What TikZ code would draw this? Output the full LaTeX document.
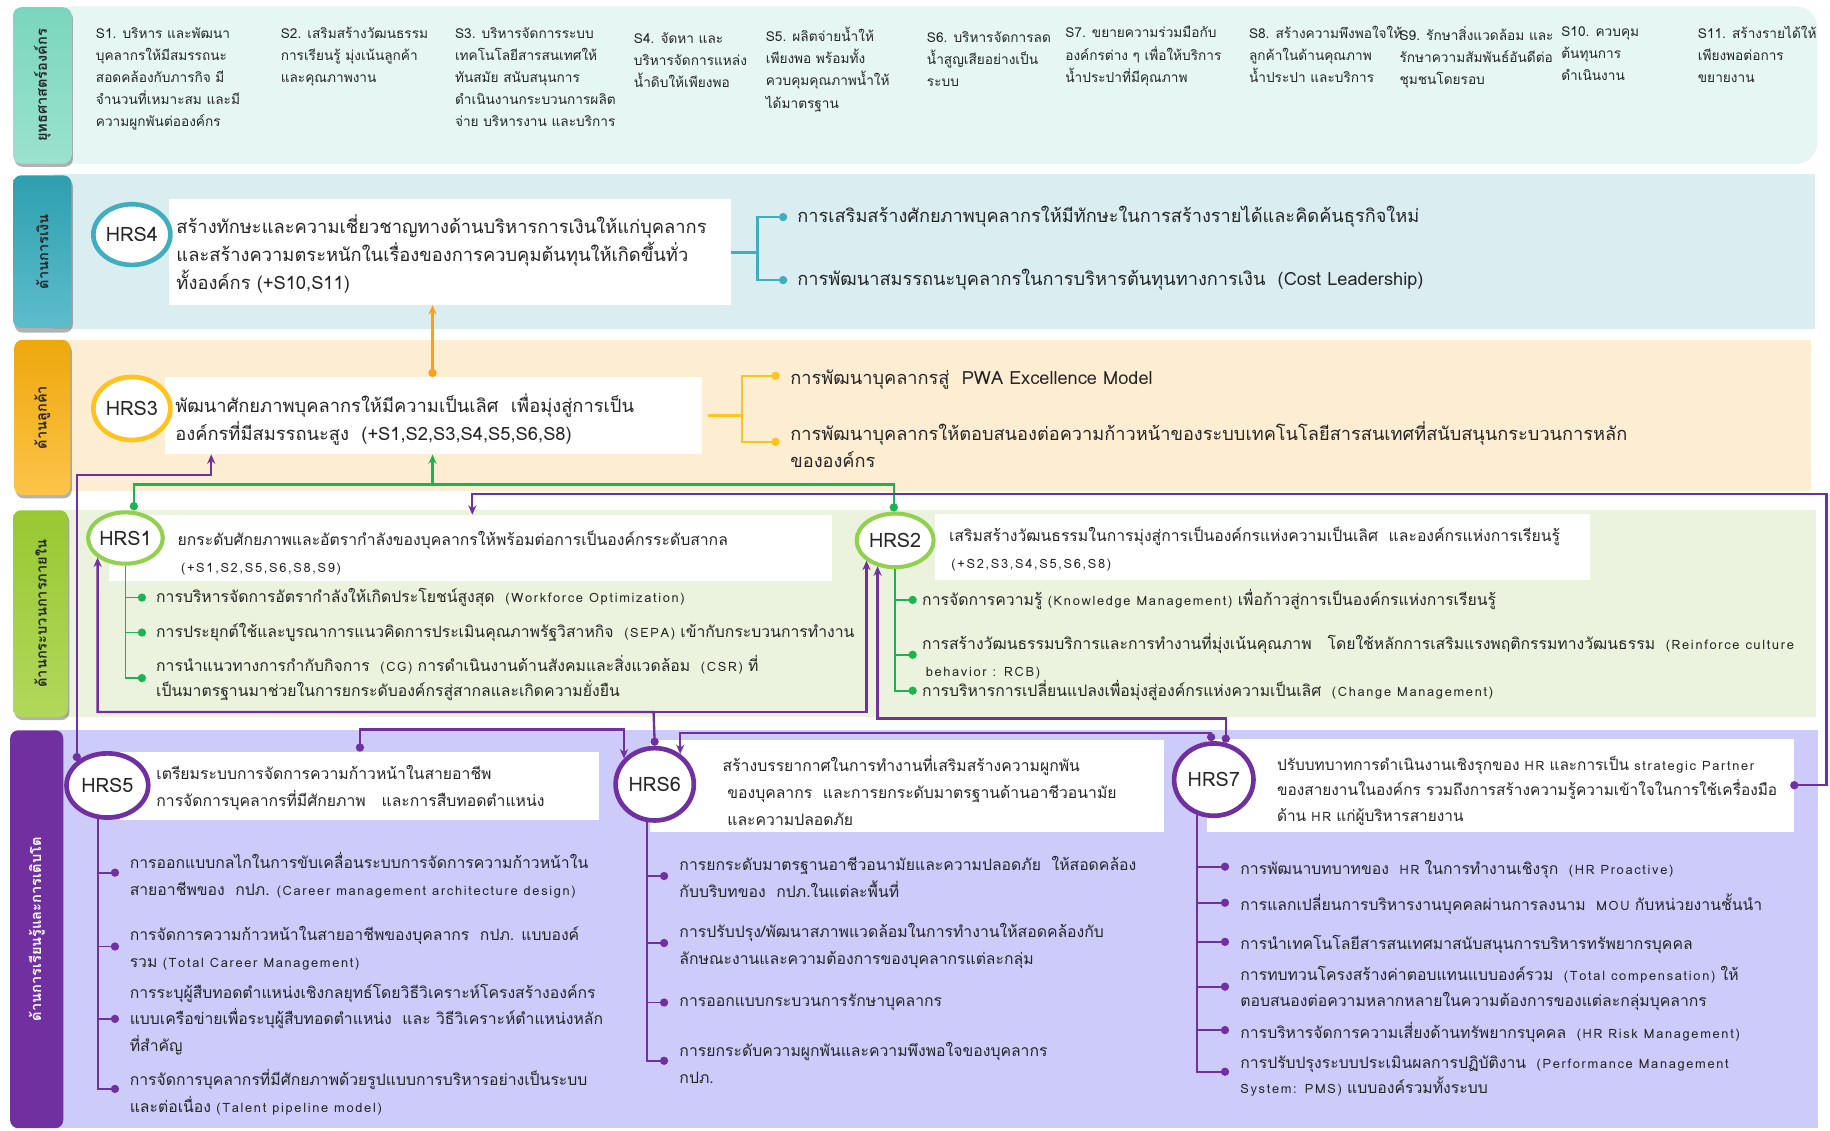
\documentclass[tikz,border=0pt]{standalone}
\usepackage{fontspec}
\setmainfont[Script=Thai]{Loma}
\usetikzlibrary{shapes.geometric,arrows.meta}
\definecolor{bgA}{HTML}{E6F7F3}
\definecolor{lbAt}{HTML}{7AD6BD}
\definecolor{lbAb}{HTML}{9BE2CE}
\definecolor{bgB}{HTML}{DAEEF2}
\definecolor{lbBt}{HTML}{2E9FAF}
\definecolor{lbBb}{HTML}{5DBDCB}
\definecolor{bgC}{HTML}{FDEED3}
\definecolor{lbCt}{HTML}{EDA80C}
\definecolor{lbCb}{HTML}{FDC449}
\definecolor{bgD}{HTML}{EBF2DE}
\definecolor{lbDt}{HTML}{98C832}
\definecolor{lbDb}{HTML}{B2D85B}
\definecolor{bgE}{HTML}{CCCBFA}
\definecolor{lbE}{HTML}{7030A0}
\definecolor{cTeal}{HTML}{40AEBF}
\definecolor{cGold}{HTML}{FFC31F}
\definecolor{cLime}{HTML}{92D050}
\definecolor{cGreen}{HTML}{1DB351}
\definecolor{cPurp}{HTML}{7030A0}
\definecolor{cOrange}{HTML}{F9A11B}
\definecolor{ink}{HTML}{262626}
\newcommand{\enx}[1]{{\fontsize{11}{11}\selectfont\addfontfeature{LetterSpace=13}#1}}
\tikzset{
  lblbox/.style={anchor=north west, inner sep=0pt, rounded corners=7pt},
  lbltext/.style={rotate=90, inner sep=0pt, font=\fontsize{12.5}{14}\selectfont\bfseries, text=ink},
  hrsnode/.style={ellipse, fill=white, line width=4pt, inner sep=0pt, font=\fontsize{17}{18}\selectfont, text=ink},
  wbox/.style={fill=white, anchor=north west, inner sep=0pt},
  stxt/.style={anchor=north west, inner sep=0pt, align=left, font=\fontsize{11.7}{19}\selectfont, text=ink},
  mtxt/.style={anchor=west, inner sep=0pt, align=left, font=\fontsize{15.7}{24}\selectfont, text=ink},
  ctxt/.style={anchor=west, inner sep=0pt, align=left, font=\fontsize{15.6}{23}\selectfont, text=ink},
  btxt/.style={anchor=west, inner sep=0pt, align=left, font=\fontsize{13.5}{23}\selectfont, text=ink},
  conn/.style={line width=2pt},
  trunk/.style={line width=1.5pt},
  enddot/.style={-{Circle[length=7pt]}},
  dotdot/.style={{Circle[length=7pt]}-{Circle[length=7pt]}},
  tipS/.style={-{Stealth[length=8pt,width=7pt]}},
  dotarr/.style={{Circle[length=7pt]}-{Stealth[length=8pt,width=7pt]}},
}
\begin{document}
\begin{tikzpicture}[x=1pt,y=-1pt]
\useasboundingbox (0,0) rectangle (1568,969);
\fill[white] (0,0) rectangle (1568,969);
% band backgrounds
\fill[bgA, rounded corners=18pt] (45,5.5) rectangle (1557,140.5);
\fill[bgB] (45,149) rectangle (1555,282);
\fill[bgC] (45,291) rectangle (1552,421);
\fill[bgD] (45,437) rectangle (1556,614);
\fill[bgE] (45,625.5) rectangle (1558,966.5);
% label shadows
\fill[black, opacity=0.3, rounded corners=7pt] (12.5,9) rectangle (62.5,143);
\fill[black, opacity=0.3, rounded corners=7pt] (12.5,153) rectangle (62.5,285);
\fill[black, opacity=0.3, rounded corners=7pt] (13.5,294) rectangle (61.5,427);
\fill[black, opacity=0.3, rounded corners=7pt] (12.5,440) rectangle (59.5,617);
% labels
\node[lblbox, top color=lbAt, bottom color=lbAb, minimum width=50pt, minimum height=134pt] (labA) at (11,6) {};
\node[lbltext] (labAt) at (labA.center) {ยุทธศาสตร์องค์กร};
\node[lblbox, top color=lbBt, bottom color=lbBb, minimum width=50pt, minimum height=131pt] (labB) at (11,150) {};
\node[lbltext] (labBt) at (labB.center) {ด้านการเงิน};
\node[lblbox, top color=lbCt, bottom color=lbCb, minimum width=48pt, minimum height=133pt] (labC) at (12,291) {};
\node[lbltext] (labCt) at (labC.center) {ด้านลูกค้า};
\node[lblbox, top color=lbDt, bottom color=lbDb, minimum width=47pt, minimum height=177pt] (labD) at (11,437) {};
\node[lbltext] (labDt) at (labD.center) {ด้านกระบวนการภายใน};
\node[lblbox, fill=lbE, minimum width=45.5pt, minimum height=341pt] (labE) at (8.5,625.5) {};
\node[lbltext, text=white] (labEt) at (labE.center) {ด้านการเรียนรู้และการเติบโต};
% strategy texts
\node[stxt] (s1) at (82,23) {S1. บริหาร และพัฒนา\\บุคลากรให้มีสมรรถนะ\\สอดคล้องกับภารกิจ มี\\จำนวนที่เหมาะสม และมี\\ความผูกพันต่อองค์กร};
\node[stxt] (s2) at (240.4,23) {S2. เสริมสร้างวัฒนธรรม\\การเรียนรู้ มุ่งเน้นลูกค้า\\และคุณภาพงาน};
\node[stxt] (s3) at (389.7,23) {S3. บริหารจัดการระบบ\\เทคโนโลยีสารสนเทศให้\\ทันสมัย สนับสนุนการ\\ดำเนินงานกระบวนการผลิต\\จ่าย บริหารงาน และบริการ};
\node[stxt] (s4) at (543,27.3) {S4. จัดหา และ\\บริหารจัดการแหล่ง\\น้ำดิบให้เพียงพอ};
\node[stxt] (s5) at (656,23) {S5. ผลิตจ่ายน้ำให้\\เพียงพอ พร้อมทั้ง\\ควบคุมคุณภาพน้ำให้\\ได้มาตรฐาน};
\node[stxt] (s6) at (794,26.7) {S6. บริหารจัดการลด\\น้ำสูญเสียอย่างเป็น\\ระบบ};
\node[stxt] (s7) at (912.6,22.4) {S7. ขยายความร่วมมือกับ\\องค์กรต่าง ๆ เพื่อให้บริการ\\น้ำประปาที่มีคุณภาพ};
\node[stxt] (s8) at (1070,22.4) {S8. สร้างความพึงพอใจให้\\ลูกค้าในด้านคุณภาพ\\น้ำประปา และบริการ};
\node[stxt] (s9) at (1199,22.4) {S9. รักษาสิ่งแวดล้อม และ\\รักษาความสัมพันธ์อันดีต่อ\\ชุมชนโดยรอบ};
\node[stxt] (s10) at (1337.6,22.4) {S10. ควบคุม\\ต้นทุนการ\\ดำเนินงาน};
\node[stxt] (s11) at (1454.6,22.4) {S11. สร้างรายได้ให้\\เพียงพอต่อการ\\ขยายงาน};
% white boxes
\node[wbox, minimum width=481pt, minimum height=91pt] (box4) at (145,170) {};
\node[wbox, minimum width=460pt, minimum height=66pt] (box3) at (141,323) {};
\node[wbox, minimum width=620pt, minimum height=57pt] (box1) at (93,441) {};
\node[wbox, minimum width=561pt, minimum height=57pt] (box2) at (801,440) {};
\node[wbox, minimum width=410pt, minimum height=58pt] (box5) at (103,644) {};
\node[wbox, minimum width=441pt, minimum height=79pt] (box6) at (556.5,634) {};
\node[wbox, minimum width=503pt, minimum height=80pt] (box7) at (1034,632.6) {};
% HRS circles
\node[hrsnode, draw=cTeal, minimum width=66pt, minimum height=52pt] (hrs4) at (113,201) {HRS4};
\node[hrsnode, draw=cGold, minimum width=66pt, minimum height=54pt] (hrs3) at (113,350) {HRS3};
\node[hrsnode, draw=cLime, line width=3.5pt, minimum width=64pt, minimum height=44pt] (hrs1) at (107.5,461) {HRS1};
\node[hrsnode, draw=cLime, line width=3.5pt, minimum width=66pt, minimum height=46pt] (hrs2) at (767,463) {HRS2};
\node[hrsnode, draw=cPurp, minimum width=70pt, minimum height=55pt] (hrs5) at (92,673) {HRS5};
\node[hrsnode, draw=cPurp, minimum width=67pt, minimum height=62pt] (hrs6) at (561,672) {HRS6};
\node[hrsnode, draw=cPurp, minimum width=68pt, minimum height=62pt] (hrs7) at (1040,668) {HRS7};
% HRS4 texts
\node[mtxt] (t4) at (151,218) {สร้างทักษะและความเชี่ยวชาญทางด้านบริหารการเงินให้แก่บุคลากร\\และสร้างความตระหนักในเรื่องของการควบคุมต้นทุนให้เกิดขึ้นทั่ว\\ทั้งองค์กร (+S10,S11)};
\node[ctxt] (b4a) at (683,186) {การเสริมสร้างศักยภาพบุคลากรให้มีทักษะในการสร้างรายได้และคิดค้นธุรกิจใหม่};
\node[ctxt] (b4b) at (683,240) {การพัฒนาสมรรถนะบุคลากรในการบริหารต้นทุนทางการเงิน~~(Cost Leadership)};
\coordinate (k4) at (649,216);
\draw[line width=2.5pt, cTeal] (box4.east |- k4) -- (k4);
\draw[conn, cTeal, enddot] (k4) |- ([xshift=-8.5pt]b4a.west);
\draw[conn, cTeal, enddot] (k4) |- ([xshift=-8.5pt]b4b.west);
% HRS3 texts
\node[mtxt] (t3) at (150,359.5) {พัฒนาศักยภาพบุคลากรให้มีความเป็นเลิศ~~เพื่อมุ่งสู่การเป็น\\องค์กรที่มีสมรรถนะสูง~~(+S1,S2,S3,S4,S5,S6,S8)};
\node[ctxt] (b3a) at (677,325) {การพัฒนาบุคลากรสู่~~PWA Excellence Model};
\node[ctxt] (b3b) at (677,381) {การพัฒนาบุคลากรให้ตอบสนองต่อความก้าวหน้าของระบบเทคโนโลยีสารสนเทศที่สนับสนุนกระบวนการหลัก\\ขององค์กร};
\coordinate (k3) at (636,356);
\draw[line width=2.5pt, cGold] ([xshift=5pt]box3.east) -- (k3);
\draw[conn, cGold, enddot] (k3) |- ([xshift=-9pt]b3a.west |- 0,322);
\draw[conn, cGold, enddot] (k3) |- ([xshift=-9pt]b3b.west |- 0,378.5);
% orange arrow HRS3 -> HRS4
\draw[conn, cOrange, dotarr] (box3.north -| 370.6,0) -- (box4.south -| 370.6,0);
% HRS1 texts
\node[btxt] (t1) at (152,474) {ยกระดับศักยภาพและอัตรากำลังของบุคลากรให้พร้อมต่อการเป็นองค์กรระดับสากล\\\hspace*{3pt}\enx{(+S1,S2,S5,S6,S8,S9)}};
\node[btxt] (b1a) at (133.6,512) {การบริหารจัดการอัตรากำลังให้เกิดประโยชน์สูงสุด~~\enx{(Workforce Optimization)}};
\node[btxt] (b1b) at (133.6,542) {การประยุกต์ใช้และบูรณาการแนวคิดการประเมินคุณภาพรัฐวิสาหกิจ~~\enx{(SEPA)} เข้ากับกระบวนการทำงาน};
\node[btxt, font=\fontsize{13.5}{22}\selectfont] (b1c) at (133.6,581) {การนำแนวทางการกำกับกิจการ~~\enx{(CG)} การดำเนินงานด้านสังคมและสิ่งแวดล้อม~~\enx{(CSR)} ที่\\เป็นมาตรฐานมาช่วยในการยกระดับองค์กรสู่สากลและเกิดความยั่งยืน};
\draw[trunk, cGreen, enddot] (hrs1.south) |- ([xshift=-8.5pt]b1a.west);
\draw[trunk, cGreen, enddot] (hrs1.south) |- ([xshift=-8.5pt]b1b.west);
\draw[trunk, cGreen, enddot] (hrs1.south) |- ([xshift=-8.5pt]b1c.west);
% HRS2 texts
\node[btxt] (t2) at (813,470.6) {เสริมสร้างวัฒนธรรมในการมุ่งสู่การเป็นองค์กรแห่งความเป็นเลิศ~~และองค์กรแห่งการเรียนรู้\\\hspace*{2pt}\enx{(+S2,S3,S4,S5,S6,S8)}};
\node[btxt] (b2a) at (790,514) {การจัดการความรู้ \enx{(Knowledge Management)} เพื่อก้าวสู่การเป็นองค์กรแห่งการเรียนรู้};
\node[btxt] (b2b) at (790,562) {การสร้างวัฒนธรรมบริการและการทำงานที่มุ่งเน้นคุณภาพ~~~โดยใช้หลักการเสริมแรงพฤติกรรมทางวัฒนธรรม~~\enx{(Reinforce culture}\\\hspace*{3pt}\enx{behavior : RCB)}};
\node[btxt] (b2c) at (790,591.8) {การบริหารการเปลี่ยนแปลงเพื่อมุ่งสู่องค์กรแห่งความเป็นเลิศ~~\enx{(Change Management)}};
\draw[trunk, cGreen, enddot] (hrs2.south) |- ([xshift=-4.5pt]b2a.west);
\draw[trunk, cGreen, enddot] (hrs2.south) |- ([xshift=-4.5pt]b2b.west |- 0,561);
\draw[trunk, cGreen, enddot] (hrs2.south) |- ([xshift=-4.5pt]b2c.west);
% green links HRS1/HRS2 -> HRS3
\coordinate (g1) at (114.7,415);
\coordinate (g2) at (765.8,415);
\coordinate (g3) at (370.6,415);
\draw[conn, cGreen, dotdot] (hrs1.north -| g1) -- (g1) -- (g2) -- (hrs2.north -| g2);
\draw[conn, cGreen, tipS] (g3) -- (box3.south -| g3);
% HRS5 texts
\node[btxt] (t5) at (133.8,675.5) {เตรียมระบบการจัดการความก้าวหน้าในสายอาชีพ\\การจัดการบุคลากรที่มีศักยภาพ~~~และการสืบทอดตำแหน่ง};
\node[btxt] (b5a) at (111,750) {การออกแบบกลไกในการขับเคลื่อนระบบการจัดการความก้าวหน้าใน\\สายอาชีพของ~~กปภ. \enx{(Career management architecture design)}};
\node[btxt] (b5b) at (111,812.5) {การจัดการความก้าวหน้าในสายอาชีพของบุคลากร~~กปภ. แบบองค์\\รวม \enx{(Total Career Management)}};
\node[btxt, font=\fontsize{13.5}{22.5}\selectfont] (b5c) at (111,873.5) {การระบุผู้สืบทอดตำแหน่งเชิงกลยุทธ์โดยวิธีวิเคราะห์โครงสร้างองค์กร\\แบบเครือข่ายเพื่อระบุผู้สืบทอดตำแหน่ง~~และ วิธีวิเคราะห์ตำแหน่งหลัก\\ที่สำคัญ};
\node[btxt] (b5d) at (111,935.5) {การจัดการบุคลากรที่มีศักยภาพด้วยรูปแบบการบริหารอย่างเป็นระบบ\\และต่อเนื่อง \enx{(Talent pipeline model)}};
\draw[trunk, cPurp, enddot] (hrs5.255) |- ([xshift=-9pt]b5a.west |- 0,747.7);
\draw[trunk, cPurp, enddot] (hrs5.255) |- ([xshift=-9pt]b5b.west |- 0,811);
\draw[trunk, cPurp, enddot] (hrs5.255) |- ([xshift=-9pt]b5c.west |- 0,873);
\draw[trunk, cPurp, enddot] (hrs5.255) |- ([xshift=-9pt]b5d.west |- 0,933);
% HRS6 texts
\node[btxt] (t6) at (619,677) {สร้างบรรยากาศในการทำงานที่เสริมสร้างความผูกพัน\\\hspace*{4pt}ของบุคลากร~~และการยกระดับมาตรฐานด้านอาชีวอนามัย\\\hspace*{4pt}และความปลอดภัย};
\node[btxt] (b6a) at (582,751.7) {การยกระดับมาตรฐานอาชีวอนามัยและความปลอดภัย~~ให้สอดคล้อง\\กับบริบทของ~~กปภ.ในแต่ละพื้นที่};
\node[btxt] (b6b) at (582,810.5) {การปรับปรุง/พัฒนาสภาพแวดล้อมในการทำงานให้สอดคล้องกับ\\ลักษณะงานและความต้องการของบุคลากรแต่ละกลุ่ม};
\node[btxt] (b6c) at (582,859) {การออกแบบกระบวนการรักษาบุคลากร};
\node[btxt] (b6d) at (582,910.8) {การยกระดับความผูกพันและความพึงพอใจของบุคลากร\\กปภ.};
\draw[trunk, cPurp, enddot] (hrs6.258) |- ([xshift=-9.5pt]b6a.west |- 0,750.6);
\draw[trunk, cPurp, enddot] (hrs6.258) |- ([xshift=-9.5pt]b6b.west |- 0,808);
\draw[trunk, cPurp, enddot] (hrs6.258) |- ([xshift=-9.5pt]b6c.west);
\draw[trunk, cPurp, enddot] (hrs6.258) |- ([xshift=-9.5pt]b6d.west |- 0,908.9);
% HRS7 texts
\node[btxt, font=\fontsize{13.2}{22}\selectfont] (t7) at (1094,677.4) {ปรับบทบาทการดำเนินงานเชิงรุกของ \enx{HR} และการเป็น \enx{strategic Partner}\\ของสายงานในองค์กร รวมถึงการสร้างความรู้ความเข้าใจในการใช้เครื่องมือ\\ด้าน \enx{HR} แก่ผู้บริหารสายงาน};
\node[btxt] (b7a) at (1062.6,745) {การพัฒนาบทบาทของ~~\enx{HR} ในการทำงานเชิงรุก~~\enx{(HR Proactive)}};
\node[btxt] (b7b) at (1062.6,775) {การแลกเปลี่ยนการบริหารงานบุคคลผ่านการลงนาม~~\enx{MOU} กับหน่วยงานชั้นนำ};
\node[btxt] (b7c) at (1062.6,809.5) {การนำเทคโนโลยีสารสนเทศมาสนับสนุนการบริหารทรัพยากรบุคคล};
\node[btxt, font=\fontsize{13.5}{22.5}\selectfont] (b7d) at (1062.6,846.8) {การทบทวนโครงสร้างค่าตอบแทนแบบองค์รวม~~\enx{(Total compensation)} ให้\\ตอบสนองต่อความหลากหลายในความต้องการของแต่ละกลุ่มบุคลากร};
\node[btxt] (b7e) at (1062.6,885) {การบริหารจัดการความเสี่ยงด้านทรัพยากรบุคคล~~\enx{(HR Risk Management)}};
\node[btxt, font=\fontsize{13.5}{21.5}\selectfont] (b7f) at (1062.6,921.8) {การปรับปรุงระบบประเมินผลการปฏิบัติงาน~~\enx{(Performance Management}\\\enx{System: PMS)} แบบองค์รวมทั้งระบบ};
\draw[trunk, cPurp, enddot] (hrs7.245) |- ([xshift=-9.5pt]b7a.west |- 0,742.6);
\draw[trunk, cPurp, enddot] (hrs7.245) |- ([xshift=-9.5pt]b7b.west |- 0,773.5);
\draw[trunk, cPurp, enddot] (hrs7.245) |- ([xshift=-9.5pt]b7c.west |- 0,807);
\draw[trunk, cPurp, enddot] (hrs7.245) |- ([xshift=-9.5pt]b7d.west |- 0,845.4);
\draw[trunk, cPurp, enddot] (hrs7.245) |- ([xshift=-9.5pt]b7e.west |- 0,882.6);
\draw[trunk, cPurp, enddot] (hrs7.245) |- ([xshift=-9.5pt]b7f.west |- 0,918.3);
% purple links
\coordinate (p1) at (181,407);
\draw[conn, cPurp, dotarr] (hrs5.north west) |- (p1) -- (box3.south -| p1);
\coordinate (p2a) at (1565,423.5);
\coordinate (p2b) at (404.7,423.5);
\draw[conn, cPurp, dotarr] ([xshift=-3.5pt]box7.east) -| (p2a) -- (p2b) -- (box1.north -| p2b);
\coordinate (p3) at (560,610);
\draw[conn, cPurp, dotarr] (hrs6.north) -- (p3) -| (hrs1.south west);
\draw[conn, cPurp, tipS] (p3) -| (hrs2.south west);
\draw[conn, cPurp, dotarr] (hrs7.72) -- (hrs7.72 |- 0,615.5) -| (hrs2.236);
\draw[conn, cPurp, dotarr] (box5.north -| 308.4,0) |- (hrs6.140 |- 0,625) -- (hrs6.140);
\draw[conn, cPurp, dotarr] (hrs7.94) |- (hrs6.50 |- 0,627.8) -- (hrs6.50);
\end{tikzpicture}
\end{document}
